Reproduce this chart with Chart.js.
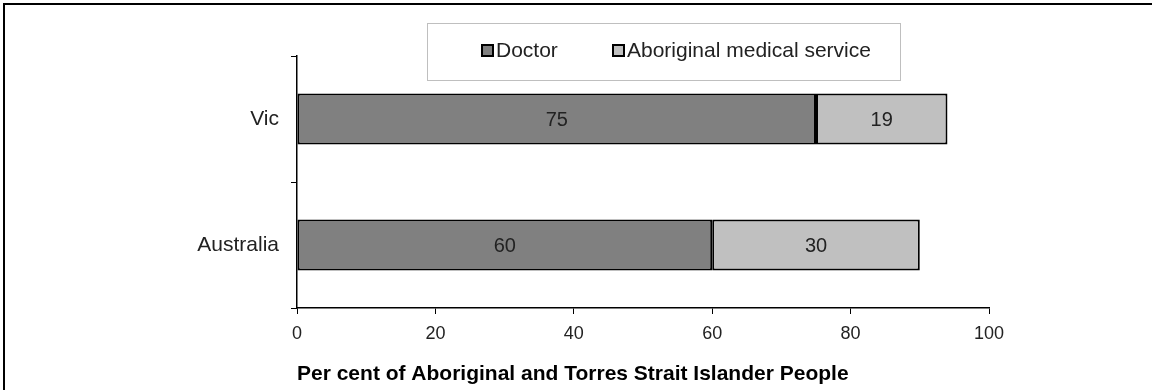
<!DOCTYPE html>
<html>
<head>
<meta charset="utf-8">
<script src="https://cdn.jsdelivr.net/npm/chart.js@4/dist/chart.umd.min.js"></script>
<style>
body { margin: 0; background: #fff; }
#wrap { position: relative; width: 1152px; height: 390px; }
#frame { position: absolute; left: 3px; top: 3px; right: 0; bottom: 0; border-top: 2px solid #000; border-left: 2px solid #000; pointer-events: none; }
</style>
</head>
<body>
<div id="wrap"><canvas id="chart" width="1152" height="390"></canvas><div id="frame"></div></div>
<script>
var categories = ['Vic', 'Australia'];
var seriesNames = ['Doctor', 'Aboriginal medical service'];
var doctor = [75, 60];
var medicalService = [19, 30];
var xTicks = [0, 20, 40, 60, 80, 100];
var axisTitle = 'Per cent of Aboriginal and Torres Strait Islander People';

var FONT = 'Arial, "Liberation Sans", sans-serif';

// legend drawn in a box that sits over the top of the plot
var boxLegend = {
	id: 'boxLegend',
	afterDraw: function(chart) {
		var ctx = chart.ctx;
		ctx.save();
		ctx.fillStyle = '#fff';
		ctx.fillRect(427, 23, 473, 57);
		ctx.strokeStyle = '#bfbfbf';
		ctx.lineWidth = 1;
		ctx.strokeRect(427.5, 23.5, 473, 57);
		ctx.font = '21px ' + FONT;
		ctx.textBaseline = 'middle';
		var xs = [482, 613];
		chart.data.datasets.forEach(function(ds, i) {
			ctx.fillStyle = ds.backgroundColor;
			ctx.fillRect(xs[i], 45, 11, 11);
			ctx.strokeStyle = '#000';
			ctx.lineWidth = 2;
			ctx.strokeRect(xs[i], 45, 11, 11);
			ctx.fillStyle = '#222';
			ctx.fillText(ds.label, xs[i] + 14, 51);
		});
		ctx.restore();
	}
};

// numbers in the middle of each segment
var barValues = {
	id: 'barValues',
	afterDatasetsDraw: function(chart) {
		var ctx = chart.ctx;
		ctx.save();
		ctx.font = '20px ' + FONT;
		ctx.fillStyle = '#222';
		ctx.textAlign = 'center';
		ctx.textBaseline = 'middle';
		chart.data.datasets.forEach(function(ds, i) {
			chart.getDatasetMeta(i).data.forEach(function(bar, j) {
				var p = bar.getProps(['x', 'y', 'base'], true);
				ctx.fillText(ds.data[j], (p.x + p.base) / 2, p.y + 1);
			});
		});
		ctx.restore();
	}
};

var config = {
	type: 'bar',
	data: {
		labels: categories,
		datasets: [{
			label: seriesNames[0],
			data: doctor,
			backgroundColor: '#808080',
			borderColor: '#000',
			borderWidth: 2,
			borderSkipped: false,
			categoryPercentage: 1,
			barPercentage: 0.405
		}, {
			label: seriesNames[1],
			data: medicalService,
			backgroundColor: '#c0c0c0',
			borderColor: '#000',
			borderWidth: 2,
			borderSkipped: false,
			categoryPercentage: 1,
			barPercentage: 0.405
		}]
	},
	options: {
		indexAxis: 'y',
		responsive: false,
		animation: false,
		layout: { padding: { top: 56, right: 163, left: 0, bottom: 0 } },
		plugins: {
			legend: { display: false },
			tooltip: { enabled: false }
		},
		scales: {
			x: {
				stacked: true,
				min: 0,
				max: 100,
				afterBuildTicks: function(scale) {
					scale.ticks = xTicks.map(function(v) { return { value: v }; });
				},
				afterFit: function(scale) { scale.height = 82; },
				grid: { drawOnChartArea: false, drawTicks: true, tickLength: 6, color: '#000', lineWidth: 1 },
				border: { color: '#000', width: 1.5 },
				ticks: { color: '#222', padding: 9, font: { family: FONT, size: 18 } },
				title: {
					display: true,
					text: axisTitle,
					align: 'start',
					color: '#000',
					padding: { top: 0, bottom: 3 },
					font: { family: FONT, size: 21, weight: 'bold' }
				}
			},
			y: {
				stacked: true,
				afterFit: function(scale) { scale.width = 297; },
				grid: { drawOnChartArea: false, drawTicks: true, tickLength: 6, color: '#000', lineWidth: 1 },
				border: { color: '#000', width: 1.5 },
				ticks: { color: '#222', padding: 12, font: { family: FONT, size: 21 } }
			}
		}
	},
	plugins: [barValues, boxLegend]
};

var ctx = document.getElementById('chart').getContext('2d');
window.myBar = new Chart(ctx, config);
</script>
</body>
</html>
